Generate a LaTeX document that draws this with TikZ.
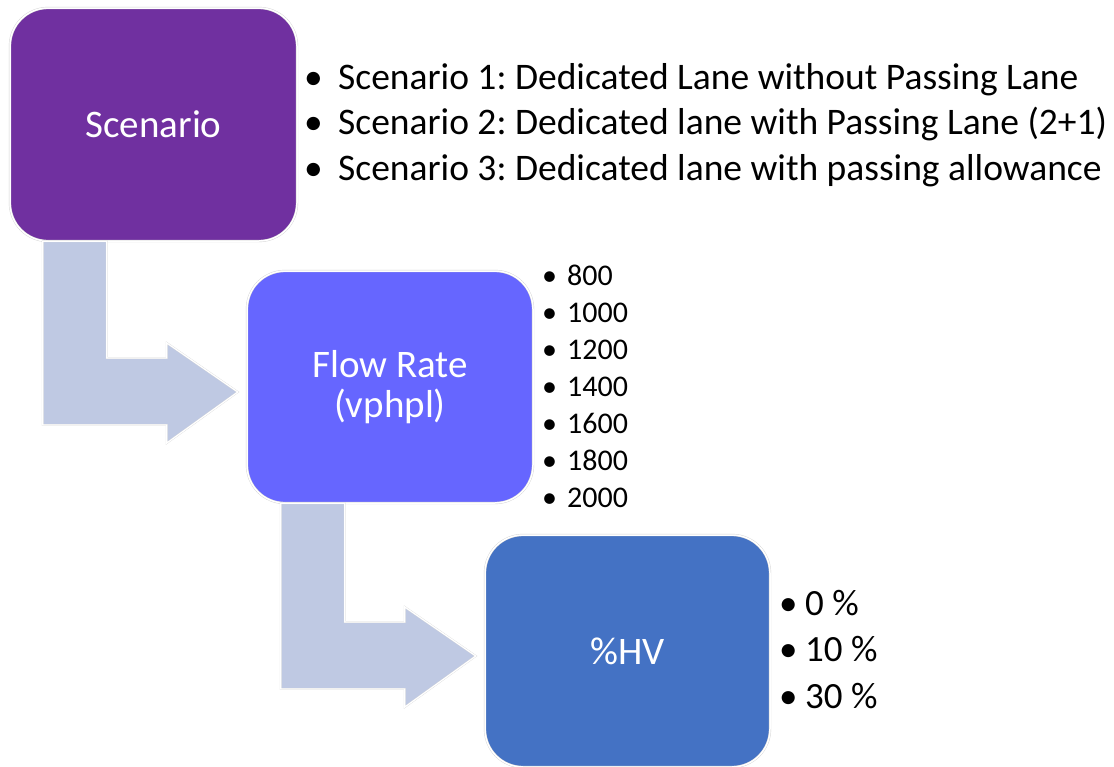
\documentclass[tikz,border=0pt]{standalone}
\usepackage{fontspec}
\setmainfont{Carlito}
\usepackage{tikz}
\usetikzlibrary{calc}
\definecolor{scenpurple}{RGB}{112, 48, 160}
\definecolor{flowblue}{RGB}{102, 102, 255}
\definecolor{hvblue}{RGB}{68, 114, 196}
\definecolor{bendfill}{RGB}{191, 201, 227}
\newcommand{\bul}[1]{\makebox[#1][l]{\textbullet}}
\frenchspacing
\tikzset{
    stage/.style={rectangle, rounded corners=38pt, minimum width=286pt, minimum height=232pt, align=center, draw=gray!35, double=white, double distance=1.5pt, line width=0.4pt, text=white, font=\fontsize{39}{40}\selectfont},
    bent/.style={fill=bendfill, draw=gray!30, double=white, double distance=1.2pt, line width=0.3pt},
    bigitems/.style={anchor=north west, inner sep=0pt, align=left, font=\fontsize{37.5}{45.5}\selectfont},
    hvitems/.style={anchor=north west, inner sep=0pt, align=left, font=\fontsize{37}{46.5}\selectfont},
    smallitems/.style={anchor=north west, inner sep=0pt, align=left, font=\fontsize{30}{37}\selectfont}
}
\begin{document}
\begin{tikzpicture}[x=1pt, y=-1pt]
    \useasboundingbox (0,0) rectangle (1114,766);

    % Stage boxes
    \node[stage, fill=scenpurple, minimum width=287pt, minimum height=233pt] (scen) at (153.5, 124.5) {Scenario};
    \node[stage, fill=flowblue] (flow) at (390, 387) {Flow Rate\\(vphpl)};
    \node[stage, fill=hvblue, minimum width=285pt] (hv) at (627.5, 651) {\%HV};

    % Bent arrows between stages
    \draw[bent] ($(scen.south west)+(33,0)$) -- ++(64,0) |- ($(flow.west)+(-80,-29)$) -- ++(0,-15)
        -- ($(flow.west)+(-9,5)$) -- ++(-71,51) -- ++(0,-18) -- ++(-124,0) -- cycle;
    \draw[bent] ($(flow.south west)+(34,0)$) -- ++(64,0) |- ($(hv.west)+(-80,-29)$) -- ++(0,-15)
        -- ($(hv.west)+(-9,5)$) -- ++(-71,51) -- ++(0,-18) -- ++(-124,0) -- cycle;

    % Item lists
    \node[bigitems] (scenlist) at (304, 63) {\bul{34pt}Scenario 1: Dedicated Lane without Passing Lane\\
        \bul{34pt}Scenario 2: Dedicated lane with Passing Lane (2+1)\\
        \bul{34pt}Scenario 3: Dedicated lane with passing allowance};
    \node[smallitems] (flowlist) at (542, 265) {\bul{25pt}800\\ \bul{25pt}1000\\ \bul{25pt}1200\\ \bul{25pt}1400\\
        \bul{25pt}1600\\ \bul{25pt}1800\\ \bul{25pt}2000};
    \node[hvitems] (hvlist) at (779, 590) {\bul{26pt}0 \%\\ \bul{26pt}10 \%\\ \bul{26pt}30 \%};
\end{tikzpicture}
\end{document}
